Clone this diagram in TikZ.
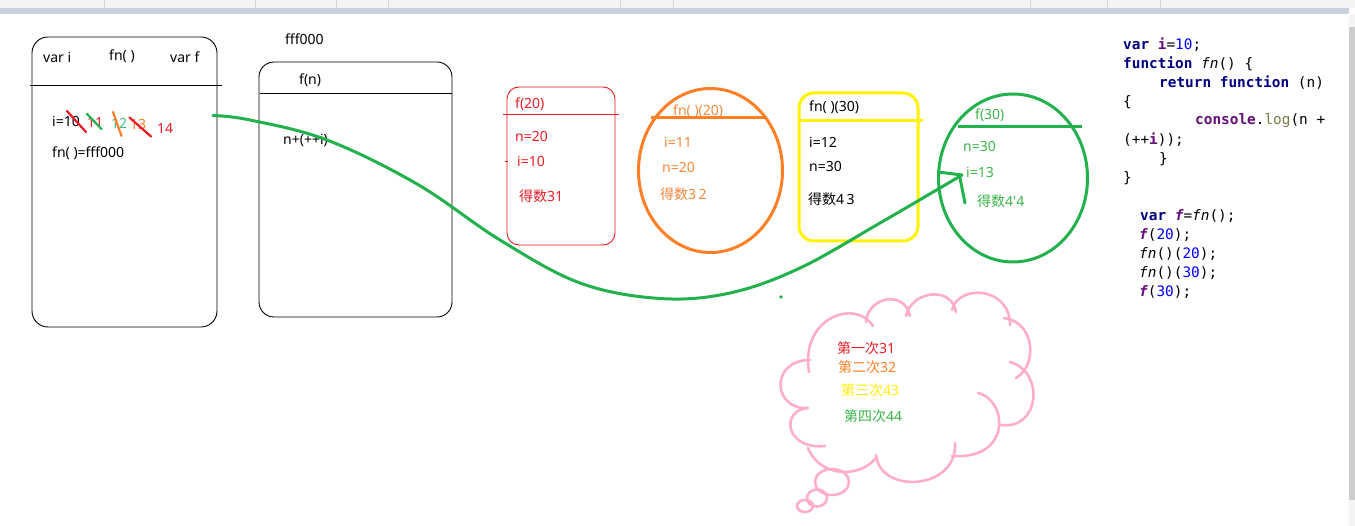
\documentclass[tikz,border=0pt]{standalone}
\usepackage{fontspec}
\setmainfont{Noto Sans}
\setmonofont{DejaVu Sans Mono}
\newfontfamily\cjk{Noto Sans CJK SC}
\definecolor{cred}{HTML}{ED1C24}
\definecolor{corange}{HTML}{FF7F27}
\definecolor{ctorange}{HTML}{F5883A}
\definecolor{cyellow}{HTML}{FFF200}
\definecolor{cgreen}{HTML}{22B14C}
\definecolor{ctgreen}{HTML}{3CB44B}
\definecolor{cteal}{HTML}{3CC07E}
\definecolor{cpink}{HTML}{FFAEC9}
\definecolor{ckw}{HTML}{000080}
\definecolor{cpv}{HTML}{660E7A}
\definecolor{cnum}{HTML}{0000FF}
\definecolor{clog}{HTML}{7A7A43}
\definecolor{tbar}{HTML}{F3F4F5}
\definecolor{tband}{HTML}{C8CFDF}
\definecolor{tsep}{HTML}{D8D8D8}
\definecolor{sbar}{HTML}{CDCDCD}
\newcommand{\kw}[1]{\textcolor{ckw}{\bfseries #1}}
\newcommand{\pv}[1]{\textcolor{cpv}{\bfseries #1}}
\newcommand{\pvi}[1]{\textcolor{cpv}{\bfseries\itshape #1}}
\newcommand{\nm}[1]{\textcolor{cnum}{#1}}
\tikzset{
  lbl/.style={anchor=west,inner sep=0pt,font=\fontsize{14}{16}\selectfont},
  code/.style={anchor=west,inner sep=0pt,font=\ttfamily\fontsize{14.4}{16}\selectfont},
  strike/.style={line width=2.2pt,line cap=round},
}
\begin{document}
\begin{tikzpicture}[x=1pt,y=-1pt]
\useasboundingbox (0,0) rectangle (1355,526);
% window chrome
\fill[white] (0,0) rectangle (1355,526);
\fill[tbar] (0,0) rectangle (1355,8);
\fill[tband] (0,8.5) rectangle (1349,14);
\foreach \sx in {104,255,336,388,620,673,1030,1107,1160}
  \draw[tsep,line width=0.8pt] (\sx,0) -- (\sx,8);
\fill[tbar] (1349,14) rectangle (1355,526);
\fill[sbar] (1349,27) rectangle (1355,500);

% box 1
\draw[line width=0.9pt,rounded corners=16pt] (32,37) rectangle (217,327);
\draw[line width=0.9pt] (30,85) -- (222,85);
\node[lbl] (vi) at (43,57) {var i};
\node[lbl] (fnh) at (109,56) {fn( )};
\node[lbl] (vf) at (170,57) {var f};
\node[lbl] (i10) at (52,121) {i=10};
\node[lbl,text=cred] (n11) at (87,123) {11};
\node[lbl,text=cteal] (n12) at (111,123) {12};
\node[lbl,text=corange] (n13) at (130,125) {13};
\node[lbl,text=cred] (n14) at (157,128) {14};
\node[lbl] (fnf) at (52,153) {fn( )=fff000};
\draw[strike,cred] (67,111) -- (86,132);
\draw[strike,cgreen] (87,114) -- (101.5,129);
\draw[strike,corange] (113,112) -- (121.5,136);
\draw[strike,cred] (129.5,117.5) -- (151,136.5);

% box 2
\node[lbl] (fff) at (285,39) {fff000};
\draw[line width=0.9pt,rounded corners=15pt] (259,62) rectangle (452,317);
\draw[line width=0.9pt] (260,93) -- (452,93);
\node[lbl] (fn) at (299,80) {f(n)};
\node[lbl] (npi) at (283,140) {n+(++i)};

% red box f(20)
\draw[cred,line width=0.9pt,rounded corners=12pt] (507,87) rectangle (615,245);
\draw[cred,line width=0.9pt] (503,114) -- (619,114);
\draw[cred,line width=0.8pt] (505,161) -- (507.5,161);
\node[lbl,text=cred] (r1) at (515,104) {f(20)};
\node[lbl,text=cred] (r2) at (515,136) {n=20};
\node[lbl,text=cred] (r3) at (517,161) {i=10};
\node[lbl,text=cred] (r4) at (519,196) {{\cjk 得数}31};

% orange ellipse fn()(20)
\draw[corange,line width=3pt] (710.5,170.5) ellipse [x radius=72,y radius=82];
\draw[corange,line width=3pt] (651,118) -- (766,118);
\node[lbl,text=ctorange] (o1) at (673,111) {fn( )(20)};
\node[lbl,text=ctorange] (o2) at (664,142) {i=11};
\node[lbl,text=ctorange] (o3) at (662,167) {n=20};
\node[lbl,text=ctorange] (o4) at (660,194) {{\cjk 得数}3\,2};

% yellow box fn()(30)
\draw[cyellow,line width=3pt,rounded corners=15pt] (799,93) rectangle (918,241);
\draw[cyellow,line width=3pt] (800,121) -- (923,121);
\node[lbl] (y1) at (809,107) {fn( )(30)};
\node[lbl] (y2) at (809,142) {i=12};
\node[lbl] (y3) at (809,166) {n=30};
\node[lbl] (y4) at (808,199) {{\cjk 得数}4\,3};

% green ellipse f(30)
\draw[cgreen,line width=3pt] (1013,178) ellipse [x radius=74.5,y radius=84];
\draw[cgreen,line width=3pt] (958,127) -- (1082,127);
\node[lbl,text=ctgreen] (g1) at (975,115) {f(30)};
\node[lbl,text=ctgreen] (g2) at (963,146) {n=30};
\node[lbl,text=ctgreen] (g3) at (966,172) {i=13};
\node[lbl,text=ctgreen] (g4) at (977,201) {{\cjk 得数}4\textquotesingle 4};

% green curve arrow
\coordinate (cs) at (213,115.5);
\coordinate (ct) at (962,175);
\draw[cgreen,line width=3pt,line cap=round] plot[smooth,tension=0.6] coordinates
  {(cs) (250,120) (327,140) (417,184) (500,240) (580,283) (660,298.5) (730,293) (800,268) (880,223) (ct)};
\draw[cgreen,line width=3pt,line cap=round] (ct) -- (938,172);
\draw[cgreen,line width=3pt,line cap=round] (960,178) -- (965,203);
\fill[cgreen] (781,297) circle (1.8);

% cloud
\begin{scope}[cpink,line width=2.6pt,line cap=round]
\draw (809,372) .. controls (800,318) and (855,298) .. (873,326);
\draw (866,322) .. controls (868,296) and (905,290) .. (910,316);
\draw (906,316) .. controls (912,290) and (952,286) .. (956,312);
\draw (952,310) .. controls (958,284) and (1010,286) .. (1010,325);
\draw (1004,318) .. controls (1035,322) and (1038,365) .. (1016,378);
\draw (1010,362) .. controls (1045,372) and (1040,430) .. (1001,425);
\draw (978,393) .. controls (1008,400) and (1012,460) .. (952,456);
\draw (955,443) .. controls (958,490) and (880,495) .. (876,455);
\draw (876,458) .. controls (860,478) and (820,478) .. (808,448);
\draw (825,446) .. controls (785,450) and (780,410) .. (808,408);
\draw (808,408) .. controls (772,410) and (770,360) .. (810,360);
\draw (832,482) ellipse [x radius=17,y radius=13];
\draw (817,498) ellipse [x radius=10,y radius=8.5];
\draw (805,506) ellipse [x radius=8,y radius=6];
\end{scope}
\node[lbl,text=cred] (c1) at (837,348) {{\cjk 第一次}31};
\node[lbl,text=corange] (c2) at (838,367) {{\cjk 第二次}32};
\node[lbl,text=cyellow] (c3) at (841,390) {{\cjk 第三次}43};
\node[lbl,text=ctgreen] (c4) at (844,416) {{\cjk 第四次}44};

% code
\node[code] (k1) at (1123,45) {\kw{var} \pv{i}=\nm{10};};
\node[code] (k2) at (1123,64) {\kw{function} \textit{fn}() \{};
\node[code] (k3) at (1159,83) {\kw{return} \kw{function} (n)};
\node[code] (k4) at (1123,102) {\{};
\node[code] (k5) at (1195,121) {\pv{console}.\textcolor{clog}{log}(n +};
\node[code] (k6) at (1123,140) {(++\pv{i}));};
\node[code] (k7) at (1159,159) {\}};
\node[code] (k8) at (1123,178) {\}};
\node[code] (k9) at (1140,216) {\kw{var} \pvi{f}=\textit{fn}();};
\node[code] (k10) at (1139,235) {\pvi{f}(\nm{20});};
\node[code] (k11) at (1139,254) {\textit{fn}()(\nm{20});};
\node[code] (k12) at (1139,273) {\textit{fn}()(\nm{30});};
\node[code] (k13) at (1139,292) {\pvi{f}(\nm{30});};
\end{tikzpicture}
\end{document}
